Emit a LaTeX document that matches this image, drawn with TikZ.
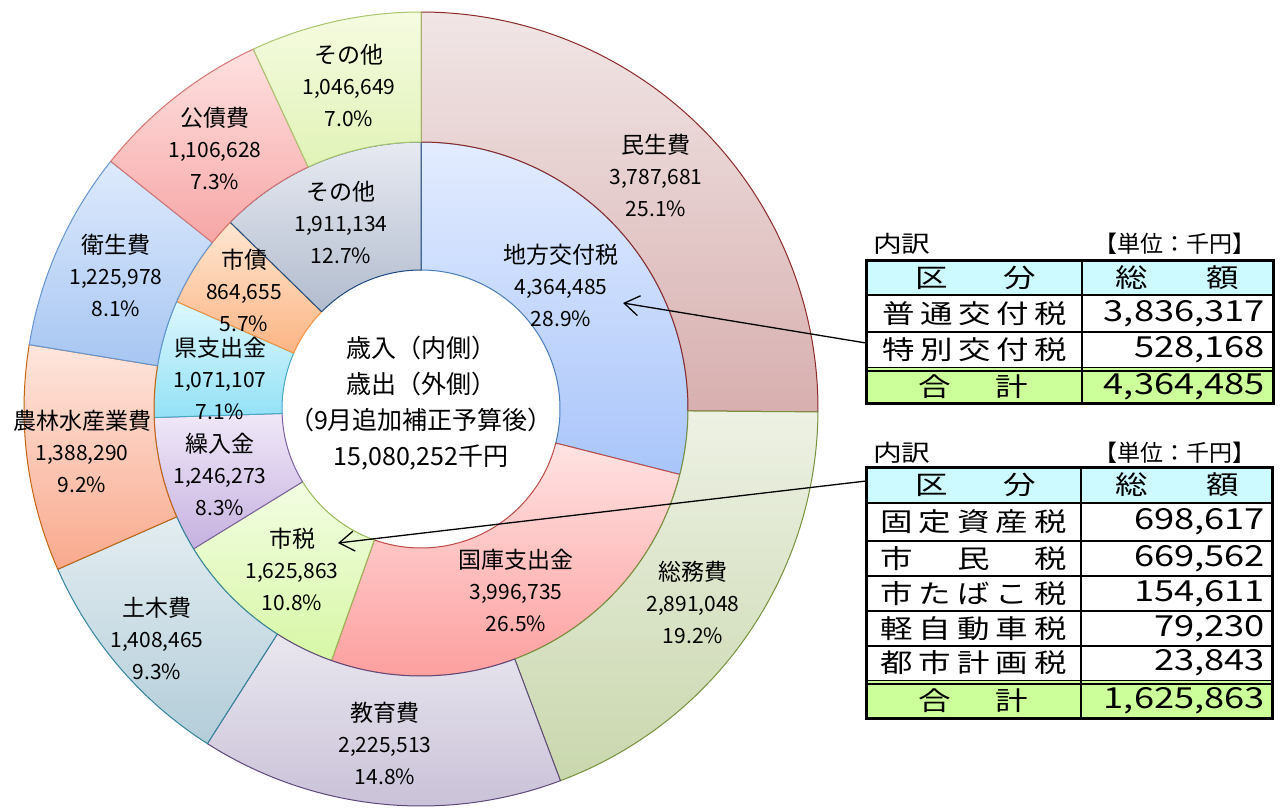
\documentclass[tikz,border=0pt]{standalone}
\usepackage{fontspec}
\setmainfont{Noto Sans CJK JP}
\newfontfamily\tabfont[FakeStretch=1.25]{Noto Sans CJK JP}
\usetikzlibrary{arrows.meta}
% inner ring colours
\definecolor{iAt}{HTML}{E3ECFF}\definecolor{iAb}{HTML}{A9C5FA}\definecolor{iAd}{HTML}{4A7EBB}
\definecolor{iBt}{HTML}{FFE3E3}\definecolor{iBb}{HTML}{FD9A9A}\definecolor{iBd}{HTML}{BE4B48}
\definecolor{iCt}{HTML}{F3FDE3}\definecolor{iCb}{HTML}{D7F7A5}\definecolor{iCd}{HTML}{98B954}
\definecolor{iDt}{HTML}{F0E8F8}\definecolor{iDb}{HTML}{C6B1E0}\definecolor{iDd}{HTML}{7D60A0}
\definecolor{iEt}{HTML}{DDF7FD}\definecolor{iEb}{HTML}{93E1F6}\definecolor{iEd}{HTML}{46AAC5}
\definecolor{iFt}{HTML}{FEE6D2}\definecolor{iFb}{HTML}{FCB584}\definecolor{iFd}{HTML}{F69240}
\definecolor{iGt}{HTML}{E7EAF1}\definecolor{iGb}{HTML}{B2BCCE}\definecolor{iGd}{HTML}{1F497D}
% outer ring colours
\definecolor{oAt}{HTML}{F1E6E6}\definecolor{oAb}{HTML}{D8AFAF}\definecolor{oAd}{HTML}{8C2A2A}
\definecolor{oBt}{HTML}{EDF1E4}\definecolor{oBb}{HTML}{C9D7AD}\definecolor{oBd}{HTML}{76923C}
\definecolor{oCt}{HTML}{EAE7EF}\definecolor{oCb}{HTML}{C6BED6}\definecolor{oCd}{HTML}{5F497A}
\definecolor{oDt}{HTML}{E3EDF1}\definecolor{oDb}{HTML}{B3CDD9}\definecolor{oDd}{HTML}{31859C}
\definecolor{oEt}{HTML}{FEE6DE}\definecolor{oEb}{HTML}{F9A98D}\definecolor{oEd}{HTML}{C5650F}
\definecolor{oFt}{HTML}{DEEAFC}\definecolor{oFb}{HTML}{A7C6F2}\definecolor{oFd}{HTML}{6595D0}
\definecolor{oGt}{HTML}{FEE1E1}\definecolor{oGb}{HTML}{F7A6A6}\definecolor{oGd}{HTML}{D77574}
\definecolor{oHt}{HTML}{F5FBE1}\definecolor{oHb}{HTML}{E1F3B7}\definecolor{oHd}{HTML}{A9C66E}
\definecolor{hdrfill}{HTML}{CCFAFF}
\definecolor{totfill}{HTML}{CCFF99}
% ring segment: r_in, r_out, angle1, angle2, colour prefix
\newcommand{\ringseg}[5]{%
  \shadedraw[top color=#5t, bottom color=#5b, draw=#5d, line width=1pt, line join=round]
    (#3:#1) arc[start angle=#3, end angle=#4, radius=#1] -- (#4:#2)
    arc[start angle=#4, end angle=#3, radius=#2] -- cycle;}
\newcommand{\nf}{\fontsize{21}{31.5}\selectfont}
\newcommand{\lbl}[5]{\node[lab] (#1) at #2 {#3\\{\nf #4}\\{\nf #5}};}
\begin{document}
\begin{tikzpicture}[x=1pt,y=1pt,
  lab/.style={align=center, inner sep=0pt, font=\fontsize{23}{31.5}\selectfont},
  ctr/.style={align=center, inner sep=0pt, font=\fontsize{25}{36}\selectfont},
  cell/.style={inner sep=0pt, font=\tabfont\fontsize{26}{30}\selectfont},
  num/.style={inner sep=0pt, anchor=east, font=\tabfont\fontsize{29}{32}\selectfont},
  captext/.style={inner sep=0pt, font=\fontsize{23}{26}\selectfont},
  arr/.style={line width=1.3pt, -{Straight Barb[length=15pt,width=20pt]}}]
\useasboundingbox (0,0) rectangle (1281,-809);
\fill[white] (0,0) rectangle (1281,-809);
\begin{scope}[shift={(421,-409)}]
  % inner ring (revenue)
  \ringseg{139}{267}{90}{-14.19}{iA}
  \ringseg{139}{267}{-14.19}{-109.60}{iB}
  \ringseg{139}{267}{-109.60}{-148.41}{iC}
  \ringseg{139}{267}{-148.41}{-178.17}{iD}
  \ringseg{139}{267}{-178.17}{-203.74}{iE}
  \ringseg{139}{267}{-203.74}{-224.38}{iF}
  \ringseg{139}{267}{-224.38}{-270}{iG}
  % outer ring (expenditure)
  \ringseg{267}{397}{90}{-0.42}{oA}
  \ringseg{267}{397}{-0.42}{-69.44}{oB}
  \ringseg{267}{397}{-69.44}{-122.56}{oC}
  \ringseg{267}{397}{-122.56}{-156.19}{oD}
  \ringseg{267}{397}{-156.19}{-189.33}{oE}
  \ringseg{267}{397}{-189.33}{-218.60}{oF}
  \ringseg{267}{397}{-218.60}{-245.01}{oG}
  \ringseg{267}{397}{-245.01}{-270}{oH}
\end{scope}
% outer labels
\lbl{o1}{(656,-175)}{民生費}{3,787,681}{25.1\%}
\lbl{o2}{(693,-602)}{総務費}{2,891,048}{19.2\%}
\lbl{o3}{(385,-743)}{教育費}{2,225,513}{14.8\%}
\lbl{o4}{(157,-638)}{土木費}{1,408,465}{9.3\%}
\lbl{o5}{(82,-451)}{農林水産業費}{1,388,290}{9.2\%}
\lbl{o6}{(116,-275)}{衛生費}{1,225,978}{8.1\%}
\lbl{o7}{(215,-148)}{公債費}{1,106,628}{7.3\%}
\lbl{o8}{(349,-85)}{その他}{1,046,649}{7.0\%}
% inner labels
\lbl{i1}{(561,-285)}{地方交付税}{4,364,485}{28.9\%}
\lbl{i2}{(516,-590)}{国庫支出金}{3,996,735}{26.5\%}
\lbl{i3}{(292,-569)}{市税}{1,625,863}{10.8\%}
\lbl{i4}{(220,-474)}{繰入金}{1,246,273}{8.3\%}
\lbl{i5}{(220,-378)}{県支出金}{1,071,107}{7.1\%}
\lbl{i6}{(244,-290)}{市債}{864,655}{5.7\%}
\lbl{i7}{(341,-222)}{その他}{1,911,134}{12.7\%}
% centre
\node[ctr] (centre) at (421,-403) {歳入（内側）\\歳出（外側）\\（9月追加補正予算後）\\15,080,252千円};
% ---------- table 1 ----------
\node[captext, anchor=west, font=\tabfont\fontsize{23}{26}\selectfont] (cap1a) at (873,-244) {内訳};
\node[captext, anchor=east] (cap1b) at (1256,-244) {【単位：千円】};
\fill[hdrfill] (866,-260) rectangle (1273,-295);
\fill[totfill] (866,-367) rectangle (1273,-403);
\draw[line width=1.5pt] (866,-332) -- (1273,-332);
\draw[line width=1pt] (866,-367.5) -- (1273,-367.5);
\draw[line width=2.5pt] (866,-371) -- (1273,-371);
\draw[line width=2.5pt] (866,-295) -- (1273,-295);
\draw[line width=2pt] (1082,-260) -- (1082,-403);
\node[draw, line width=3pt, inner sep=0pt, minimum width=407pt, minimum height=143pt] (tbl1) at (1069.5,-331.5) {};
\node[cell] (t1h1) at (976,-277.5) {区\kern55.5pt分};
\node[cell] (t1h2) at (1177.5,-277.5) {総\kern58.5pt額};
\node[cell] (t1r1) at (974.5,-314) {普\kern5.5pt通\kern5.5pt交\kern5.5pt付\kern5.5pt税};
\node[cell] (t1r2) at (974.5,-350) {特\kern5.5pt別\kern5.5pt交\kern5.5pt付\kern5.5pt税};
\node[cell] (t1r3) at (973.5,-387) {合\kern44.5pt計};
\node[num] (t1n1) at (1265,-314) {3,836,317};
\node[num] (t1n2) at (1265,-350) {528,168};
\node[num] (t1n3) at (1265,-387) {4,364,485};
% ---------- table 2 ----------
\node[captext, anchor=west, font=\tabfont\fontsize{23}{26}\selectfont] (cap2a) at (873,-453) {内訳};
\node[captext, anchor=east] (cap2b) at (1256,-453) {【単位：千円】};
\fill[hdrfill] (866,-467) rectangle (1272,-503);
\fill[totfill] (866,-680) rectangle (1272,-718);
\foreach \yy in {541,576,611,646} {\draw[line width=1.5pt] (866,-\yy) -- (1272,-\yy);}
\draw[line width=1pt] (866,-680.5) -- (1272,-680.5);
\draw[line width=2.5pt] (866,-684) -- (1272,-684);
\draw[line width=2.5pt] (866,-503) -- (1272,-503);
\draw[line width=2pt] (1081,-467) -- (1081,-718);
\node[draw, line width=3pt, inner sep=0pt, minimum width=406pt, minimum height=251pt] (tbl2) at (1069,-592.5) {};
\node[cell] (t2h1) at (976,-485) {区\kern55.5pt分};
\node[cell] (t2h2) at (1177.5,-485) {総\kern58.5pt額};
\node[cell] (t2r1) at (973.5,-522) {固\kern6pt定\kern6pt資\kern6pt産\kern6pt税};
\node[cell] (t2r2) at (973.5,-558.5) {市\kern44.5pt民\kern44.5pt税};
\node[cell] (t2r3) at (973.5,-593.5) {市\kern6ptた\kern6ptば\kern6ptこ\kern6pt税};
\node[cell] (t2r4) at (973.5,-628.5) {軽\kern6pt自\kern6pt動\kern6pt車\kern6pt税};
\node[cell] (t2r5) at (973.5,-663) {都\kern6pt市\kern6pt計\kern6pt画\kern6pt税};
\node[cell] (t2r6) at (973.5,-701) {合\kern44.5pt計};
\node[num] (t2n1) at (1265,-522) {698,617};
\node[num] (t2n2) at (1265,-558.5) {669,562};
\node[num] (t2n3) at (1265,-593.5) {154,611};
\node[num] (t2n4) at (1265,-628.5) {79,230};
\node[num] (t2n5) at (1265,-663) {23,843};
\node[num] (t2n6) at (1265,-701) {1,625,863};
% ---------- arrows ----------
\coordinate (a1s) at (866,-343);
\coordinate (a1e) at (623,-303);
\coordinate (a2s) at (866,-481);
\coordinate (a2e) at (338,-543);
\draw[arr] (a1s) -- (a1e);
\draw[arr] (a2s) -- (a2e);
\end{tikzpicture}
\end{document}
